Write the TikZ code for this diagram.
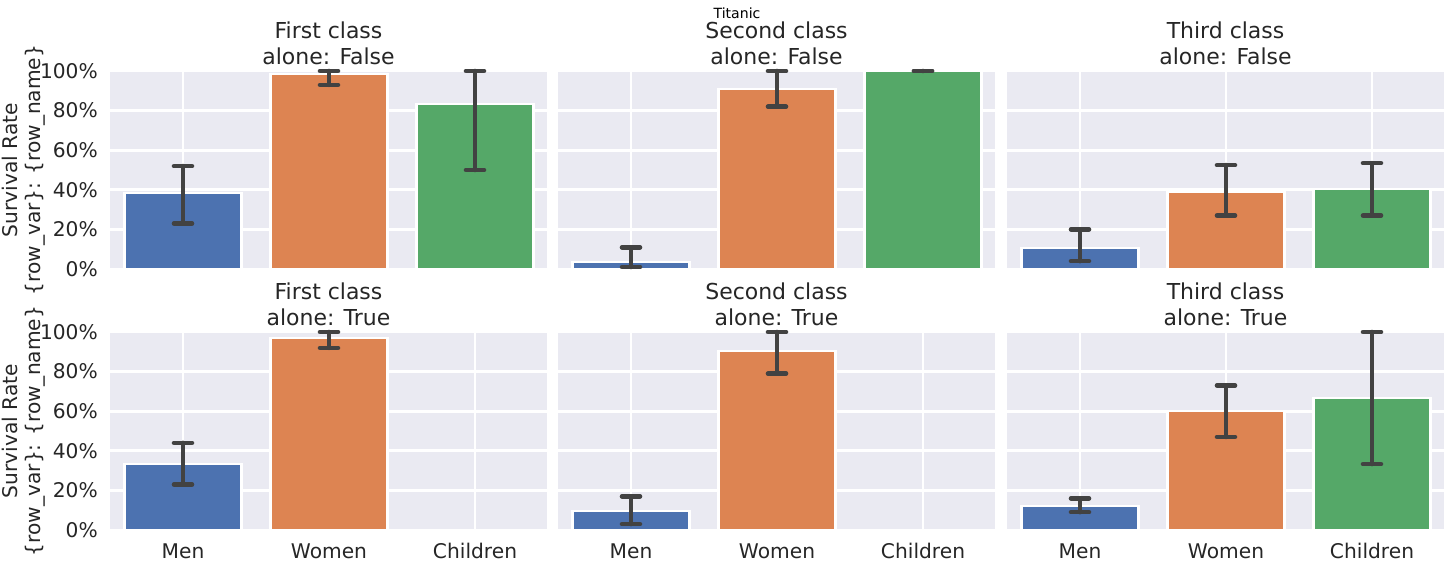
\documentclass[tikz,border=0pt]{standalone}
\usepackage{fontspec}
\setmainfont{DejaVu Sans}
\definecolor{sbblue}{HTML}{4C72B0}
\definecolor{sborange}{HTML}{DD8452}
\definecolor{sbgreen}{HTML}{55A868}
\definecolor{sbback}{HTML}{EAEAF2}
\definecolor{sberr}{HTML}{424242}
\tikzset{
  panelbg/.style={fill=sbback, draw=none},
  gridline/.style={white, line width=1.6pt},
  barbox/.style={draw=white, line width=1.2pt},
  errline/.style={sberr, line width=2.6pt, line cap=round},
  ticklabel/.style={font=\fontsize{11.5}{13}\selectfont, text=black!85},
  paneltitle/.style={font=\fontsize{12.5}{15}\selectfont, text=black!85, align=center}
}
% \survbar{x origin}{y base}{index}{value}{lo}{hi}{colour}
\newcommand{\survbar}[7]{%
  \pgfmathsetmacro{\bc}{#1+73+146*#3}
  \fill[#7, barbox] (\bc-58.5,#2) rectangle (\bc+58.5,#2-1.98*#4);
  \draw[errline] (\bc,#2-1.98*#5) -- (\bc,#2-1.98*#6);
  \draw[errline] (\bc-9,#2-1.98*#5) -- (\bc+9,#2-1.98*#5);
  \draw[errline] (\bc-9,#2-1.98*#6) -- (\bc+9,#2-1.98*#6);
}
\begin{document}
\begin{tikzpicture}[x=0.02cm, y=-0.02cm]
\useasboundingbox[fill=white] (0,0) rectangle (1453,568);

\node[font=\fontsize{8}{9}\selectfont] (suptitle) at (737,13) {Titanic};

% panels
\foreach \ox/\cls in {110/First, 558/Second, 1007/Third}{
  \foreach \base/\alone in {269/False, 530/True}{
    \fill[panelbg] (\ox,\base) rectangle (\ox+437,\base-198);
    \foreach \v in {0,20,...,100}
      \draw[gridline] (\ox,\base-1.98*\v) -- (\ox+437,\base-1.98*\v);
    \foreach \i in {0,1,2}
      \draw[gridline] (\ox+73+146*\i,\base) -- (\ox+73+146*\i,\base-198);
    \node[paneltitle, anchor=south] at (\ox+218.5,\base-198) {\cls{} class\\alone: \alone};
  }
}

% y ticks and labels
\foreach \base in {269,530}{
  \foreach \v in {0,20,...,100}
    \node[ticklabel, anchor=east] at (104,\base-1.98*\v) {\v\%};
  \node[ticklabel, rotate=90, align=center] at (24,\base-99) {Survival Rate\\\{row\_var\}: \{row\_name\}};
}

% x ticks
\foreach \ox in {110,558,1007}{
  \foreach \lab [count=\i from 0] in {Men,Women,Children}
    \node[ticklabel] at (\ox+73+146*\i,551) {\lab};
}

% top row
\survbar{110}{269}{0}{38.5}{23}{52}{sbblue}
\survbar{110}{269}{1}{98.5}{93}{100}{sborange}
\survbar{110}{269}{2}{83.3}{50}{100}{sbgreen}
\survbar{558}{269}{0}{3.5}{1}{11}{sbblue}
\survbar{558}{269}{1}{91}{82}{100}{sborange}
\survbar{558}{269}{2}{100}{100}{100}{sbgreen}
\survbar{1007}{269}{0}{10.5}{4}{20}{sbblue}
\survbar{1007}{269}{1}{39}{27}{52.5}{sborange}
\survbar{1007}{269}{2}{40.5}{27}{53.5}{sbgreen}

% bottom row
\survbar{110}{530}{0}{33.5}{23}{44}{sbblue}
\survbar{110}{530}{1}{97}{92}{100}{sborange}
\survbar{558}{530}{0}{9.5}{3}{17}{sbblue}
\survbar{558}{530}{1}{90.5}{79}{100}{sborange}
\survbar{1007}{530}{0}{12}{9}{16}{sbblue}
\survbar{1007}{530}{1}{60}{47}{73}{sborange}
\survbar{1007}{530}{2}{66.7}{33.3}{100}{sbgreen}
\end{tikzpicture}
\end{document}
